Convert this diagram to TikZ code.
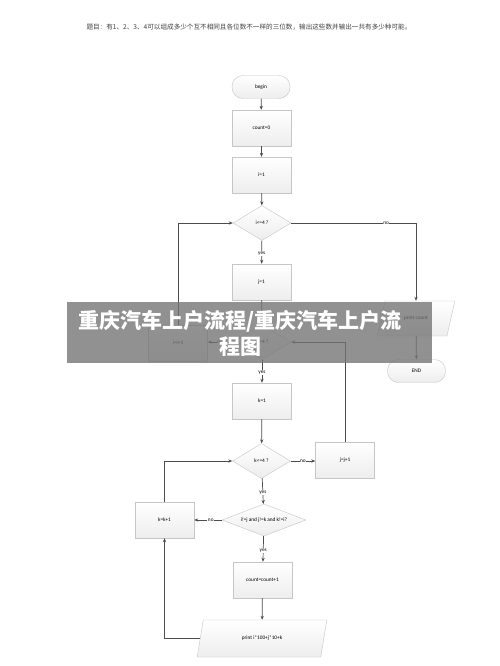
\documentclass[tikz,border=0pt]{standalone}
\usepackage{fontspec}
\setmainfont{Carlito}
\newfontfamily\cjk{Noto Sans CJK SC}
\usetikzlibrary{shapes.geometric,arrows.meta}
\tikzset{
  box/.style={draw=gray!45, top color=white, bottom color=gray!14, font=\fontsize{5.3}{6}\selectfont, inner sep=1pt},
  proc/.style={box, rectangle, minimum width=59pt, minimum height=36pt},
  term/.style={box, rectangle, rounded corners=11pt, minimum width=58pt, minimum height=23pt},
  dec/.style={box, diamond, aspect=2.2, minimum width=58pt, minimum height=35pt},
  io/.style={box, trapezium, trapezium stretches=true, trapezium left angle=70, trapezium right angle=110},
  conn/.style={draw=black!70, line width=0.7pt, -{Stealth[length=4pt,width=3.2pt]}},
  lbl/.style={fill=white, inner sep=0.6pt, font=\fontsize{5.3}{6}\selectfont}
}
\begin{document}
\begin{tikzpicture}[x=1pt,y=-1pt]
\useasboundingbox (0,0) rectangle (500,666);
\fill[white] (0,0) rectangle (500,666);
\node[font=\cjk\fontsize{6.6}{7}\selectfont, text=black!75, anchor=west] (title) at (83,27) {题目：有1、2、3、4可以组成多少个互不相同且各位数不一样的三位数，输出这些数并输出一共有多少种可能。};

\node[term] (begin) at (261,87) {begin};
\node[proc] (c0) at (261.5,128) {count=0};
\node[proc] (i1) at (261.5,175) {i=1};
\node[dec] (d1) at (262,223) {i<=4 ?};
\node[proc] (j1) at (261.5,282) {j=1};
\node[dec] (d2) at (262,342) {j<=4 ?};
\node[proc] (ii) at (178,343) {i=i+1};
\node[proc] (k1) at (262,401) {k=1};
\node[dec] (d3) at (261.5,461) {k<=4 ?};
\node[proc] (jj) at (345,460) {j=j+1};
\node[dec, aspect=2.7, minimum width=84pt, minimum height=32pt] (d4) at (264,520) {i!=j and j!=k and k!=i?};
\node[proc] (kk) at (164.5,520) {k=k+1};
\node[proc] (cc) at (262.5,580) {count=count+1};
\node[io, trapezium left angle=72, trapezium right angle=108, minimum width=130pt, minimum height=37pt] (pr) at (262,638.5) {print i*100+j*10+k};
\node[io, trapezium left angle=63, trapezium right angle=117, minimum width=78pt, minimum height=35pt] (pc) at (416,318.5) {print count};
\node[term] (end) at (416.5,371) {END};

\draw[conn] (begin) -- (c0);
\draw[conn] (c0) -- (i1);
\draw[conn] (i1) -- (d1);
\draw[conn] (d1) -- node[lbl, pos=0.55] {yes} (j1);
\draw[conn] (j1) -- (d2);
\draw[conn] (d2) -- node[lbl, pos=0.55] {yes} (k1);
\draw[conn] (k1) -- (d3);
\draw[conn] (d3) -- node[lbl, pos=0.55] {yes} (d4);
\draw[conn] (d4) -- node[lbl, pos=0.55] {yes} (cc);
\draw[conn] (cc) -- (pr);
\draw[conn] (d1.east) -| node[lbl, pos=0.38] {no} (pc.north);
\draw[conn] (pc) -- (end);
\draw[conn] (d2.west) -- node[lbl, pos=0.5] {no} (ii.east |- d2.west);
\draw[conn] (ii.north) |- (d1.west);
\draw[conn] (d3.east) -- node[lbl, pos=0.5] {no} (jj.west |- d3.east);
\draw[conn] (jj.north) |- (d2.east);
\draw[conn] (d4.west) -- node[lbl, pos=0.4] {no} (kk.east |- d4.west);
\draw[conn] (kk.north) |- (d3.west);
\draw[conn] (pr.west) -| (kk.south);

\fill[gray!90!black, opacity=0.78] (67,302) rectangle (432,363);
\node[font=\cjk\bfseries\fontsize{21}{26}\selectfont, text=white, align=center] (wm) at (240,333) {重庆汽车上户流程/重庆汽车上户流\\程图};
\end{tikzpicture}
\end{document}
